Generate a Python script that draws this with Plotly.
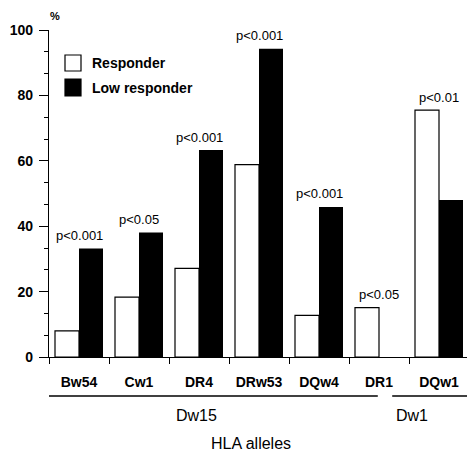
import plotly.graph_objects as go

# HLA allele frequencies (%) in responders vs low responders
alleles = ["Bw54", "Cw1", "DR4", "DRw53", "DQw4", "DR1", "DQw1"]
responder = [8.0, 18.3, 27.1, 58.8, 12.7, 15.1, 75.5]
low_responder = [33.2, 38.1, 63.3, 94.3, 45.9, 0, 48.0]
p_labels = ["p<0.001", "p<0.05", "p<0.001", "p<0.001", "p<0.001", "p<0.05", "p<0.01"]
y_ticks = [0, 20, 40, 60, 80, 100]

W, H = 467, 451
L, T, B = 49, 30, 94
plot_w = W - L
plot_h = H - T - B
slot = 60.0  # pixel width of one allele slot

FONT = "Liberation Sans, Arial, Helvetica, sans-serif"


def px_x(px):
    return (px - L) / plot_w


def px_y(py):
    return (H - B - py) / plot_h


fig = go.Figure()
fig.add_trace(go.Bar(
    x=alleles, y=responder, name="Responder",
    marker=dict(color="white", line=dict(color="black", width=1.2)),
    showlegend=False,
))
fig.add_trace(go.Bar(
    x=alleles, y=low_responder, name="Low responder",
    marker=dict(color="black", line=dict(width=0)),
    showlegend=False,
))

annotations = []
for a, r, lr, p in zip(alleles, responder, low_responder, p_labels):
    annotations.append(dict(
        x=a, y=max(r, lr), xref="x", yref="y", text=p, showarrow=False,
        yanchor="middle", yshift=13,
        font=dict(family=FONT, size=13, color="black"),
    ))

# y-axis unit
annotations.append(dict(
    x=px_x(55), y=px_y(16), xref="paper", yref="paper", text="%",
    showarrow=False, xanchor="center", yanchor="middle",
    font=dict(family=FONT, size=11, color="black", weight="bold"),
))

# legend drawn as boxes with labels
shapes = []
legend_items = [("Responder", "white", 55, 71), ("Low responder", "black", 79, 96)]
for label, fill, y0, y1 in legend_items:
    shapes.append(dict(
        type="rect", xref="paper", yref="paper",
        x0=px_x(65), x1=px_x(81), y0=px_y(y1), y1=px_y(y0),
        fillcolor=fill, line=dict(color="black", width=1.2),
    ))
    annotations.append(dict(
        x=px_x(90), y=px_y((y0 + y1) / 2), xref="paper", yref="paper",
        text=label, showarrow=False, xanchor="left", yanchor="middle",
        font=dict(family=FONT, size=14, color="black", weight="bold"),
    ))

# haplotype group brackets: name, line start, line end, label centre (category units)
groups = [("Dw15", -0.5, 4.98, 1.95), ("Dw1", 5.22, 6.6, 5.55)]
for name, g0, g1, gc in groups:
    shapes.append(dict(
        type="line", xref="x", yref="paper",
        x0=g0, x1=g1, y0=px_y(396), y1=px_y(396),
        line=dict(color="black", width=1.3),
    ))
    annotations.append(dict(
        x=gc, y=px_y(415), xref="x", yref="paper", text=name,
        showarrow=False, xanchor="center", yanchor="middle",
        font=dict(family=FONT, size=16, color="black"),
    ))

annotations.append(dict(
    x=px_x(251), y=px_y(443), xref="paper", yref="paper", text="HLA alleles",
    showarrow=False, xanchor="center", yanchor="middle",
    font=dict(family=FONT, size=16, color="black"),
))

fig.update_layout(
    width=W, height=H,
    margin=dict(l=L, r=0, t=T, b=B, pad=0),
    paper_bgcolor="white", plot_bgcolor="white",
    barmode="group", bargap=0.2, bargroupgap=0.0,
    shapes=shapes, annotations=annotations,
    showlegend=False,
    font=dict(family=FONT, color="black"),
)
fig.update_xaxes(
    type="category", categoryorder="array", categoryarray=alleles,
    range=[-0.5, -0.5 + plot_w / slot],
    showline=True, linecolor="black", linewidth=1.3,
    ticks="outside", tickson="boundaries", ticklen=6, tickwidth=1.2, tickcolor="black",
    showgrid=False, zeroline=False,
    tickfont=dict(family=FONT, size=14, color="black", weight="bold"),
    ticklabelstandoff=12,
)
fig.update_yaxes(
    range=[0, 100], tickvals=y_ticks,
    showline=True, linecolor="black", linewidth=1.3,
    ticks="outside", ticklen=9, tickwidth=1.2, tickcolor="black",
    minor=dict(dtick=20 / 3, tick0=0, ticks="outside", ticklen=3.5,
               tickwidth=1.2, tickcolor="black", showgrid=False),
    showgrid=False, zeroline=False,
    tickfont=dict(family=FONT, size=14, color="black", weight="bold"),
    ticklabelstandoff=3,
)

fig.write_html("out.html")
